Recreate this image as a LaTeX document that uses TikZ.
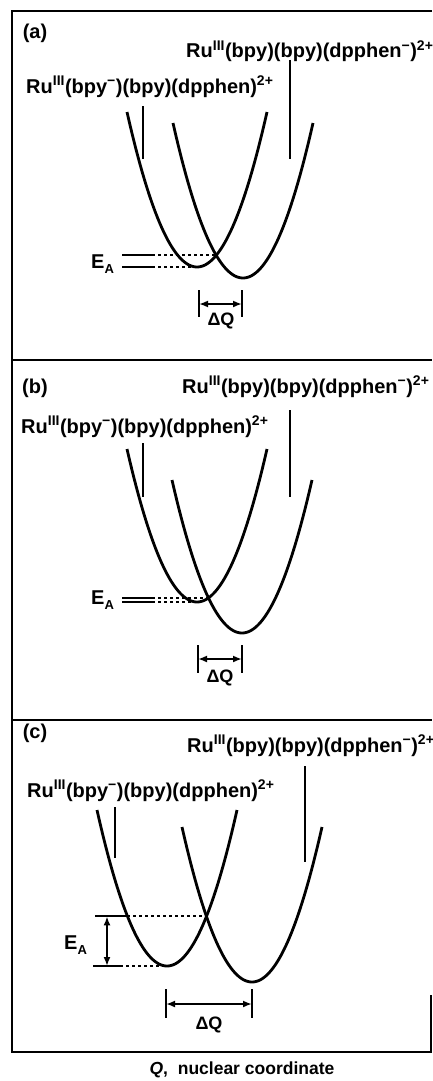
\documentclass[tikz,border=0pt]{standalone}
\usepackage{fontspec}
\setmainfont{Liberation Sans}
\usetikzlibrary{arrows.meta,intersections}
\newcommand\parab[4]{% name, x0, ybottom, height
  \draw[curve,name path=#1] plot[domain=-70:70,samples=90,variable=\t] ({#2+\t},{#3-#4*(\t/70)*(\t/70)});}
\newcommand\EA{E\raisebox{-0.5ex}{\fontsize{13}{14}\selectfont A}}
\begin{document}
\begin{tikzpicture}[x=1pt,y=-1pt,
  frame/.style={line width=2.2pt},
  curve/.style={line width=2.8pt},
  tickline/.style={line width=1.7pt},
  lvl/.style={line width=2.1pt},
  dsh/.style={line width=2.1pt,dash pattern=on 3pt off 3pt},
  dq/.style={line width=2pt,{Latex[length=9pt,width=7pt]}-{Latex[length=9pt,width=7pt]}},
  lab/.style={font=\fontsize{20}{23}\selectfont\bfseries,inner sep=0pt},
  sub/.style={font=\fontsize{18}{20}\selectfont\bfseries,inner sep=0pt},
]
\useasboundingbox (0,0) rectangle (432,1081);
\clip (0,0) rectangle (432,1081);
% frames
\draw[frame] (432,11) -- (12,11) -- (12,1052) -- (431,1052) -- (431,995);
\draw[frame] (12,360) -- (432,360);
\draw[frame] (12,720) -- (432,720);

% ---------------- panel (a)
\node[lab] (pa) at (35,33) {(a)};
\node[lab,anchor=base west] (ra) at (186,58) {Ru\textsuperscript{III}(bpy)(bpy)(dpphen\textsuperscript{−})\textsuperscript{2+}};
\node[lab,anchor=base west] (la) at (26,93) {Ru\textsuperscript{III}(bpy\textsuperscript{−})(bpy)(dpphen)\textsuperscript{2+}};
\draw[tickline] (290,60) -- (290,159);
\draw[tickline] (143,106) -- (143,159);
\parab{La}{197}{267}{155}
\parab{Ra}{243}{278}{155}
\path[name intersections={of=La and Ra,name=xa}];
\coordinate (aU0) at (122,0 |- xa-1);
\coordinate (aL0) at (122,267);
\coordinate (aL1) at (197,267);
\draw[lvl] (aU0) -- ++(30,0) coordinate (aU1);
\draw[dsh] (aU1) -- (xa-1);
\draw[lvl] (aL0) -- ++(30,0) coordinate (aL2);
\draw[dsh] (aL2) -- (aL1);
\node[lab,anchor=base west] (ea) at (91,268) {\EA};
\draw[tickline] (199,290) -- (199,317);
\draw[tickline] (242,290) -- (242,317);
\draw[dq] (199,304) -- (242,304);
\node[sub] (dqa) at (221,321) {ΔQ};

% ---------------- panel (b)
\node[lab] (pb) at (35,388) {(b)};
\node[lab,anchor=base west] (rb) at (182,393) {Ru\textsuperscript{III}(bpy)(bpy)(dpphen\textsuperscript{−})\textsuperscript{2+}};
\node[lab,anchor=base west] (lb) at (21,433) {Ru\textsuperscript{III}(bpy\textsuperscript{−})(bpy)(dpphen)\textsuperscript{2+}};
\draw[tickline] (290,410) -- (290,497);
\draw[tickline] (143,443) -- (143,497);
\parab{Lb}{197}{602}{153}
\parab{Rb}{242}{633}{153}
\path[name intersections={of=Lb and Rb,name=xb}];
\coordinate (bU0) at (122,0 |- xb-1);
\coordinate (bL0) at (122,602);
\coordinate (bL1) at (197,602);
\draw[lvl] (bU0) -- ++(30,0) coordinate (bU1);
\draw[dsh] (bU1) -- (xb-1);
\draw[lvl] (bL0) -- ++(30,0) coordinate (bL2);
\draw[dsh] (bL2) -- (bL1);
\node[lab,anchor=base west] (eb) at (91,604) {\EA};
\draw[tickline] (198,645) -- (198,673);
\draw[tickline] (242,645) -- (242,673);
\draw[dq] (198,659) -- (242,659);
\node[sub] (dqb) at (220,678) {ΔQ};

% ---------------- panel (c)
\node[lab] (pc) at (35,733) {(c)};
\node[lab,anchor=base west] (rc) at (187,752) {Ru\textsuperscript{III}(bpy)(bpy)(dpphen\textsuperscript{−})\textsuperscript{2+}};
\node[lab,anchor=base west] (lc) at (27,797) {Ru\textsuperscript{III}(bpy\textsuperscript{−})(bpy)(dpphen)\textsuperscript{2+}};
\draw[tickline] (305,766) -- (305,862);
\draw[tickline] (115,807) -- (115,858);
\parab{Lc}{167}{966}{156}
\parab{Rc}{252}{982}{155}
\path[name intersections={of=Lc and Rc,name=xc}];
\coordinate (cU0) at (95,0 |- xc-1);
\coordinate (cL0) at (93,966);
\coordinate (cL1) at (167,966);
\draw[lvl] (cU0) -- ++(32,0) coordinate (cU1);
\draw[dsh] (cU1) -- (xc-1);
\draw[lvl] (cL0) -- ++(27,0) coordinate (cL2);
\draw[dsh] (cL2) -- (cL1);
\coordinate (cA1) at (107,0 |- xc-1);
\coordinate (cA2) at (107,966);
\draw[dq] (cA1) -- (cA2);
\node[lab,anchor=base west] (ec) at (64,949) {\EA};
\draw[tickline] (166,989) -- (166,1018);
\draw[tickline] (252,989) -- (252,1018);
\draw[dq] (166,1004) -- (252,1004);
\node[sub] (dqc) at (209,1025) {ΔQ};

% axis caption
\node[font=\fontsize{17.5}{20}\selectfont\bfseries,inner sep=0pt] (cap) at (242,1070) {\textit{Q},\ \ nuclear coordinate};
\end{tikzpicture}
\end{document}
